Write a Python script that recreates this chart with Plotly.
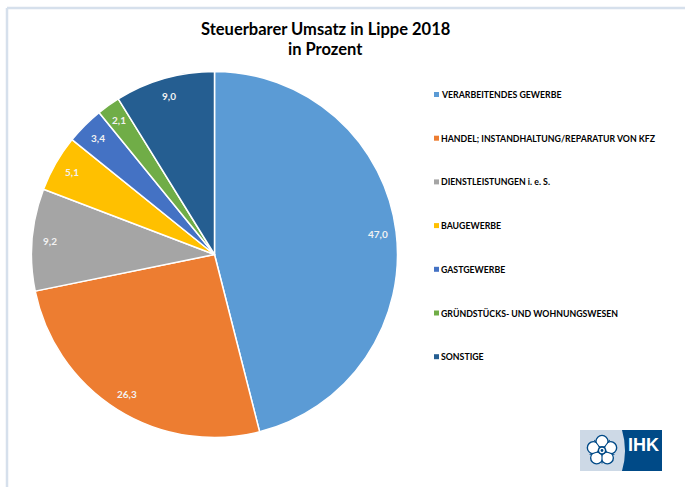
import math
import plotly.graph_objects as go

W, H = 685, 487

categories = ["VERARBEITENDES GEWERBE", "HANDEL; INSTANDHALTUNG/REPARATUR VON KFZ",
              "DIENSTLEISTUNGEN i. e. S.", "BAUGEWERBE", "GASTGEWERBE",
              "GRÜNDSTÜCKS- UND WOHNUNGSWESEN", "SONSTIGE"]
values = [47.0, 26.3, 9.2, 5.1, 3.4, 2.1, 9.0]
colors = ["#5B9BD5", "#ED7D31", "#A5A5A5", "#FFC000", "#4472C4", "#70AD47", "#255E91"]
labels_txt = ["47,0", "26,3", "9,2", "5,1", "3,4", "2,1", "9,0"]

FONT = "Lato"
CX, CY, R = 214.5, 254.5, 183.0
px = lambda x: x / W
py = lambda y: 1 - y / H

fig = go.Figure(go.Pie(
    labels=categories, values=values, sort=False, direction="clockwise", rotation=0,
    marker=dict(colors=colors, line=dict(color="#FFFFFF", width=1.5)),
    textinfo="none", showlegend=False, hoverinfo="label+value",
    domain=dict(x=[px(CX - R), px(CX + R)], y=[py(CY + R), py(CY - R)]),
))

shapes, ann = [], []

def text(t, x, y, size, color, family=FONT, xanchor="center"):
    ann.append(dict(text=t, x=px(x), y=py(y), xref="paper", yref="paper", showarrow=False,
                    xanchor=xanchor, yanchor="middle",
                    font=dict(family=family, size=size, color=color, weight="bold")))

# frame
shapes.append(dict(type="line", xref="paper", yref="paper", x0=px(7), x1=1, y0=py(8), y1=py(8),
                   line=dict(color="#D6E0EC", width=2.5)))
shapes.append(dict(type="line", xref="paper", yref="paper", x0=px(7), x1=px(7), y0=py(8), y1=0,
                   line=dict(color="#D6E0EC", width=2.5)))

# title
text("Steuerbarer Umsatz in Lippe 2018", 325.5, 29, 16.5, "#000000")
text("in Prozent", 325.5, 49, 16.5, "#000000")

# slice labels placed from the values
total = sum(values)
cum = 0.0
for v, t in zip(values, labels_txt):
    a = (cum + v / 2) / total * 2 * math.pi
    cum += v
    r = R * 0.9
    text(t, CX + r * math.sin(a), CY - r * math.cos(a) - 0.5, 10, "#F2F2F2")

# legend
for i, (c, col) in enumerate(zip(categories, colors)):
    y = 94.5 + i * 43.7
    shapes.append(dict(type="rect", xref="paper", yref="paper", x0=px(434), x1=px(439),
                       y0=py(y + 2.5), y1=py(y - 2.5), fillcolor=col, line=dict(width=0)))
    text(c, 439, y, 8.75, "#000000", xanchor="left")

# logo
NAVY = "#004A87"
shapes.append(dict(type="rect", xref="paper", yref="paper", x0=px(580), x1=px(662), y0=py(471), y1=py(430),
                   fillcolor="#CDD9E6", line=dict(width=0), layer="above"))
shapes.append(dict(type="path", xref="paper", yref="paper", layer="above", fillcolor=NAVY, line=dict(width=0),
                   path=f"M {px(622)},{py(430)} Q {px(628)},{py(450.5)} {px(622)},{py(471)} "
                        f"L {px(662)},{py(471)} L {px(662)},{py(430)} Z"))
def circle(cx, cy, r, fill):
    shapes.append(dict(type="circle", xref="paper", yref="paper", layer="above",
                       x0=px(cx - r), x1=px(cx + r), y0=py(cy + r), y1=py(cy - r),
                       fillcolor=fill, line=dict(width=0)))
LX, LY = 602, 450.5
for k in range(5):
    a = math.radians(72 * k)
    circle(LX + 9.2 * math.sin(a), LY - 9.2 * math.cos(a), 6.6, NAVY)
for k in range(5):
    a = math.radians(72 * k)
    circle(LX + 9.0 * math.sin(a), LY - 9.0 * math.cos(a), 5.4, "#FFFFFF")
for k in range(5):
    a = math.radians(36 + 72 * k)
    shapes.append(dict(type="line", xref="paper", yref="paper", layer="above",
                       x0=px(LX), y0=py(LY), x1=px(LX + 13 * math.sin(a)), y1=py(LY - 13 * math.cos(a)),
                       line=dict(color=NAVY, width=1.1)))
circle(LX, LY, 4.4, NAVY)
circle(LX, LY, 2.8, "#FFFFFF")
circle(LX, LY, 1.4, NAVY)
text("IHK", 643.5, 444.5, 18, "#FFFFFF", family="Liberation Sans")

fig.update_layout(width=W, height=H, margin=dict(l=0, r=0, t=0, b=0), paper_bgcolor="#FFFFFF",
                  showlegend=False, shapes=shapes, annotations=ann, font=dict(family=FONT))
fig.write_html("out.html", config=dict(displayModeBar=False),
               post_script="document.body.style.margin='0';document.documentElement.style.overflow='hidden';")
